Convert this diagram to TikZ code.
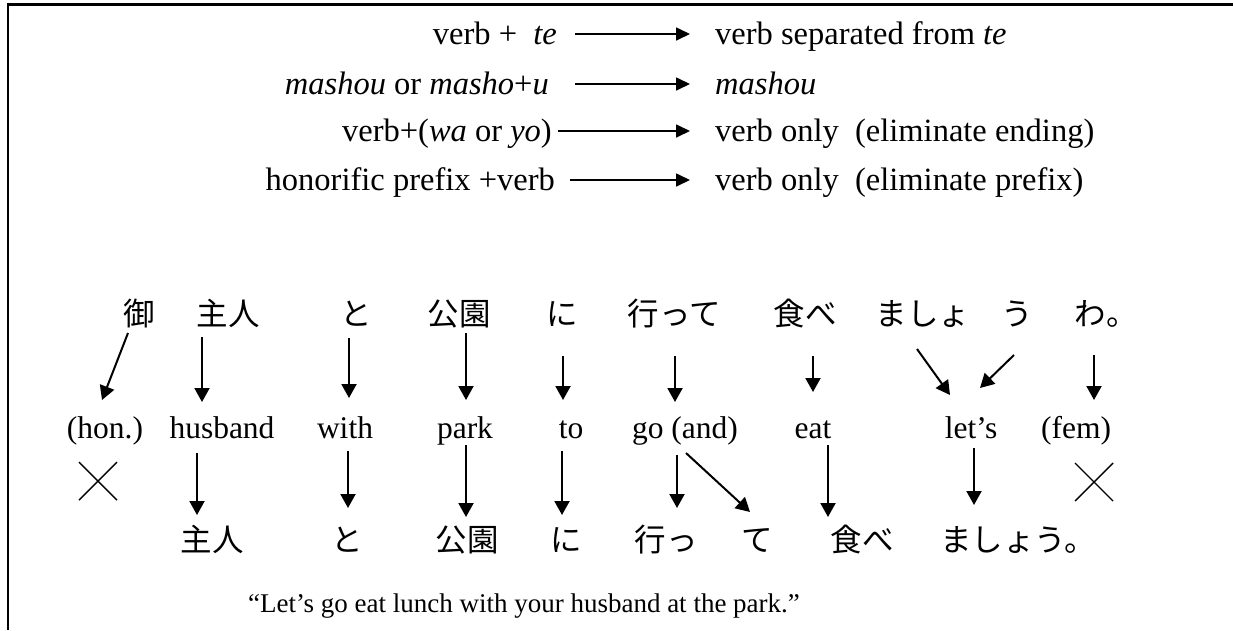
\documentclass[tikz,border=0pt]{standalone}
\usepackage{fontspec}
\setmainfont{Liberation Serif}
\newfontfamily\jpfont{Noto Sans CJK JP}
\usetikzlibrary{arrows.meta,calc}
\tikzset{
  en/.style={font=\fontsize{31.5}{36}\selectfont, inner sep=0pt, anchor=base},
  top/.style={font=\fontsize{32.5}{36}\selectfont, inner sep=0pt},
  capt/.style={font=\fontsize{27}{32}\selectfont, inner sep=0pt, anchor=base},
  jp/.style={font=\jpfont\fontsize{31.5}{36}\selectfont, inner sep=0pt, anchor=base},
  varr/.style={line width=2pt, -{Triangle[length=14pt,width=15pt]}},
  harr/.style={line width=1.7pt, -{Triangle[length=14pt,width=13pt]}},
  crossline/.style={line width=1.4pt},
  frameline/.style={line width=2.4pt}
}
\begin{document}
\begin{tikzpicture}[x=1pt,y=-1pt]
\useasboundingbox (0,0) rectangle (1233,630);
% frame
\draw[frameline] (8.3,4.5) -- (1233,4.5);
\draw[line width=2pt] (8.3,3.3) -- (8.3,630);

% rules at top
\node[top, anchor=base east] (l1) at (557,44) {verb +\ \ \textit{te}};
\node[top, anchor=base west] (r1) at (715,44) {verb separated from \textit{te}};
\node[top, anchor=base east] (l2) at (549,94) {\textit{mashou} or \textit{masho}+\textit{u}};
\node[top, anchor=base west] (r2) at (715,94) {\textit{mashou}};
\node[top, anchor=base east] (l3) at (552,141) {verb+(\textit{wa} or \textit{yo})};
\node[top, anchor=base west] (r3) at (715,141) {verb only\ \ (eliminate ending)};
\node[top, anchor=base east] (l4) at (555,190) {honorific prefix +verb};
\node[top, anchor=base west] (r4) at (715,190) {verb only\ \ (eliminate prefix)};
\draw[harr] ($(l1.base east)+(18,-10)$) -- ($(r1.base west)+(-25,-10)$);
\draw[harr] ($(l2.base east)+(26,-10)$) -- ($(r2.base west)+(-25,-10)$);
\draw[harr] ($(l3.base east)+(6,-10)$) -- ($(r3.base west)+(-25,-10)$);
\draw[harr] ($(l4.base east)+(15,-10)$) -- ($(r4.base west)+(-25,-10)$);

% row 1: Japanese sentence
\node[jp] (j1) at (139,325) {御};
\node[jp] (j2) at (228,325) {主人};
\node[jp] (j3) at (356,325) {と};
\node[jp] (j4) at (459,325) {公園};
\node[jp] (j5) at (562,325) {に};
\node[jp] (j6) at (674,325) {行って};
\node[jp] (j7) at (805,325) {食べ};
\node[jp] (j8) at (923,325) {ましょ};
\node[jp] (j9) at (1017,325) {う};
\node[jp] (j10) at (1106,325) {わ。};

% row 2: English glosses
\node[en] (e1) at (105,438) {(hon.)};
\node[en] (e2) at (222,438) {husband};
\node[en] (e3) at (345,438) {with};
\node[en] (e4) at (465,438) {park};
\node[en] (e5) at (571,438) {to};
\node[en] (e6) at (685,438) {go (and)};
\node[en] (e7) at (813,438) {eat};
\node[en] (e8) at (971,438) {let’s};
\node[en] (e9) at (1076,438) {(fem)};

% row 3: simplified Japanese
\node[jp] (k1) at (212,551) {主人};
\node[jp] (k2) at (347,551) {と};
\node[jp] (k3) at (467,551) {公園};
\node[jp] (k4) at (566,551) {に};
\node[jp] (k5) at (666,551) {行っ};
\node[jp] (k6) at (757,551) {て};
\node[jp] (k7) at (862,551) {食べ};
\node[jp] (k8) at (1018,551) {ましょう。};

% caption
\node[capt] (cap) at (524,612) {“Let’s go eat lunch with your husband at the park.”};

% arrows row1 -> row2
\draw[varr] ($(j1.base)+(-11,8)$) -- ($(e1.base)+(-3,-38)$);
\draw[varr] ($(j2.base)+(-26,12)$) -- ($(e2.base)+(-20,-36)$);
\draw[varr] ($(j3.base)+(-7,13)$) -- ($(e3.base)+(4,-40)$);
\draw[varr] ($(j4.base)+(7,8)$) -- ($(e4.base)+(1,-38)$);
\draw[varr] ($(j5.base)+(1,31)$) -- ($(e5.base)+(-8,-38)$);
\draw[varr] ($(j6.base)+(1,31)$) -- ($(e6.base)+(-10,-36)$);
\draw[varr] ($(j7.base)+(8,31)$) -- ($(e7.base)+(0,-46)$);
\draw[varr] ($(j8.base)+(-6,24)$) -- ($(e8.base)+(-21,-43)$);
\draw[varr] ($(j9.base)+(-3,30)$) -- ($(e8.base)+(9,-50)$);
\draw[varr] ($(j10.base)+(-12,30)$) -- ($(e9.base)+(18,-38)$);

% arrows row2 -> row3
\draw[varr] ($(e2.base)+(-25,15)$) -- ($(k1.base)+(-15,-36)$);
\draw[varr] ($(e3.base)+(3,13)$) -- ($(k2.base)+(1,-43)$);
\draw[varr] ($(e4.base)+(1,7)$) -- ($(k3.base)+(-1,-34)$);
\draw[varr] ($(e5.base)+(-9,13)$) -- ($(k4.base)+(-4,-36)$);
\draw[varr] ($(e6.base)+(-8,17)$) -- ($(k5.base)+(11,-43)$);
\draw[varr] ($(e6.base)+(1,15)$) -- ($(k6.base)+(-7,-39)$);
\draw[varr] ($(e7.base)+(15,7)$) -- ($(k7.base)+(-34,-34)$);
\draw[varr] ($(e8.base)+(3,10)$) -- ($(k8.base)+(-44,-46)$);

% crosses (dropped items)
\draw[crossline] (79,462) -- (117,500) (79,500) -- (117,462);
\draw[crossline] (1075,463) -- (1113,501) (1075,501) -- (1113,463);
\end{tikzpicture}
\end{document}
